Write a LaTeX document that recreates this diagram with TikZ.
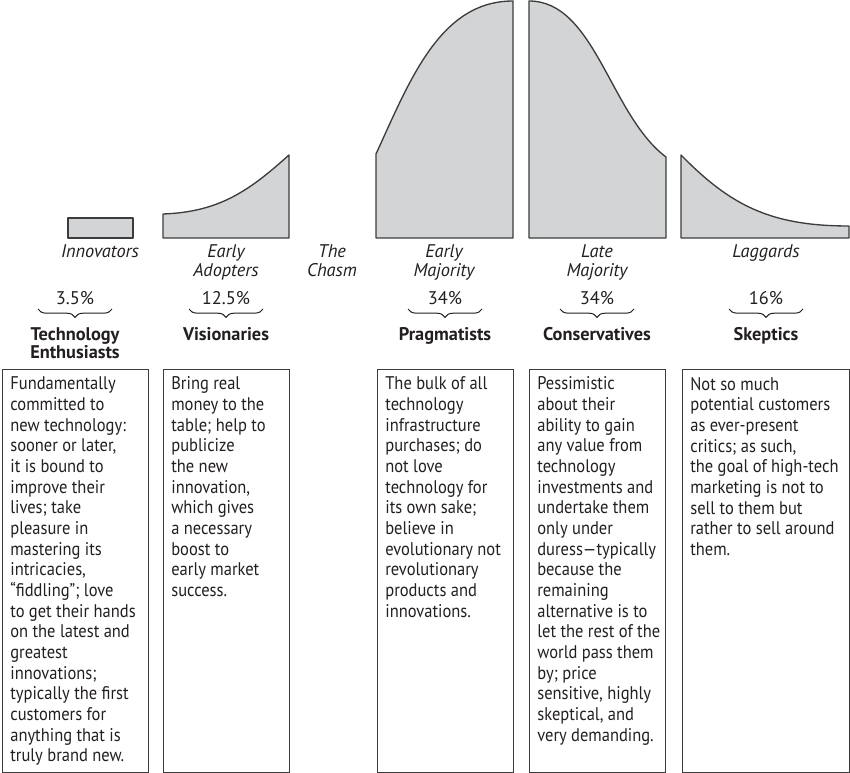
\documentclass[tikz,border=0pt]{standalone}
\usepackage{fontspec}
\setmainfont{PT Sans}
\newfontfamily\descfont{PT Sans}[FakeStretch=0.9]
\usepackage{xcolor}
\usepackage{tikz}
\usetikzlibrary{positioning, calc, decorations.pathreplacing}

\definecolor{ink}{HTML}{231F20}
\definecolor{edge}{HTML}{3C3C3C}
\definecolor{curvefill}{HTML}{D3D4D6}

\tikzset{
  segment/.style={draw=edge, fill=curvefill, line width=0.8pt, line join=round},
  grouplabel/.style={font=\fontsize{11}{11.4}\selectfont\itshape, text=ink, align=center, inner sep=0pt, anchor=north},
  share/.style={font=\fontsize{11}{12}\selectfont, text=ink, inner sep=0pt},
  persona/.style={font=\fontsize{11}{11.2}\selectfont\bfseries, text=ink, align=center, inner sep=0pt, anchor=north},
  descbox/.style={draw=edge, line width=0.8pt, inner sep=0pt, anchor=north west, minimum height=241.8pt},
  desctext/.style={font=\descfont\fontsize{11}{12.4}\selectfont, text=ink, align=left, inner sep=0pt},
  groupbrace/.style={draw=ink, line width=0.6pt, decorate, decoration={brace, mirror, amplitude=5pt}}
}

\begin{document}
\begin{tikzpicture}[x=0.6pt, y=-0.6pt]
  \useasboundingbox (0,0) rectangle (850,773);

  % bell curve, cut into the five groups
  \draw[segment] (68,218) rectangle (133,238);
  \draw[segment] (163,238) -- (163,214) .. controls (220,212) and (250,190) .. (289,155) -- (289,238) -- cycle;
  \draw[segment] (376,238) -- (376,154) .. controls (410,80) and (440,1) .. (513,1) -- (513,238) -- cycle;
  \draw[segment] (529,238) -- (529,1) .. controls (595,1) and (610,115) .. (666,157) -- (666,238) -- cycle;
  \draw[segment] (681,238) -- (681,155) .. controls (730,205) and (770,226) .. (849,226) -- (849,238) -- cycle;

  % group names under the curve
  \node[grouplabel] (innov) at (100,244) {Innovators};
  \node[grouplabel] (adopt) at (226,244) {Early\\Adopters};
  \node[grouplabel] (chasm) at (332,244) {The\\Chasm};
  \node[grouplabel] (early) at (444,244) {Early\\Majority};
  \node[grouplabel] (late) at (597,244) {Late\\Majority};
  \node[grouplabel] (lagg) at (766,244) {Laggards};

  % shares, braces and personas
  \foreach \n/\x/\val in {1/75/3.5\%, 2/226/12.5\%, 3/445/34\%, 4/597/34\%, 5/766/16\%} {
    \node[share] (pct\n) at (\x,298) {\val};
    \draw[groupbrace] (\x-37,309) -- (\x+37,309);
  }
  \node[persona] (enth) at (75,327) {Technology\\Enthusiasts};
  \node[persona] (vision) at (226,327) {Visionaries};
  \node[persona] (pragm) at (445,327) {Pragmatists};
  \node[persona] (conserv) at (597,327) {Conservatives};
  \node[persona] (skept) at (766,327) {Skeptics};

  % description boxes
  \node[descbox, minimum width=87.6pt] (b1) at (2,369) {};
  \node[descbox, minimum width=75.6pt] (b2) at (163,369) {};
  \node[descbox, minimum width=81.6pt] (b3) at (377,369) {};
  \node[descbox, minimum width=81.6pt] (b4) at (529,369) {};
  \node[descbox, minimum width=100.2pt] (b5) at (682,369) {};

  \node[desctext, below right=4.6pt and 4.8pt of b1.north west] (t1) {Fundamentally\\committed to\\new technology:\\sooner or later,\\it is bound to\\improve their\\lives; take\\pleasure in\\mastering its\\intricacies,\\“fiddling”; love\\to get their hands\\on the latest and\\greatest\\innovations;\\typically the first\\customers for\\anything that is\\truly brand new.};
  \node[desctext, below right=4.6pt and 4.8pt of b2.north west] (t2) {Bring real\\money to the\\table; help to\\publicize\\the new\\innovation,\\which gives\\a necessary\\boost to\\early market\\success.};
  \node[desctext, below right=4.6pt and 4.8pt of b3.north west] (t3) {The bulk of all\\technology\\infrastructure\\purchases; do\\not love\\technology for\\its own sake;\\believe in\\evolutionary not\\revolutionary\\products and\\innovations.};
  \node[desctext, below right=4.6pt and 4.8pt of b4.north west] (t4) {Pessimistic\\about their\\ability to gain\\any value from\\technology\\investments and\\undertake them\\only under\\duress—typically\\because the\\remaining\\alternative is to\\let the rest of the\\world pass them\\by; price\\sensitive, highly\\skeptical, and\\very demanding.};
  \node[desctext, below right=4.6pt and 4.8pt of b5.north west] (t5) {Not so much\\potential customers\\as ever-present\\critics; as such,\\the goal of high-tech\\marketing is not to\\sell to them but\\rather to sell around\\them.};
\end{tikzpicture}
\end{document}
